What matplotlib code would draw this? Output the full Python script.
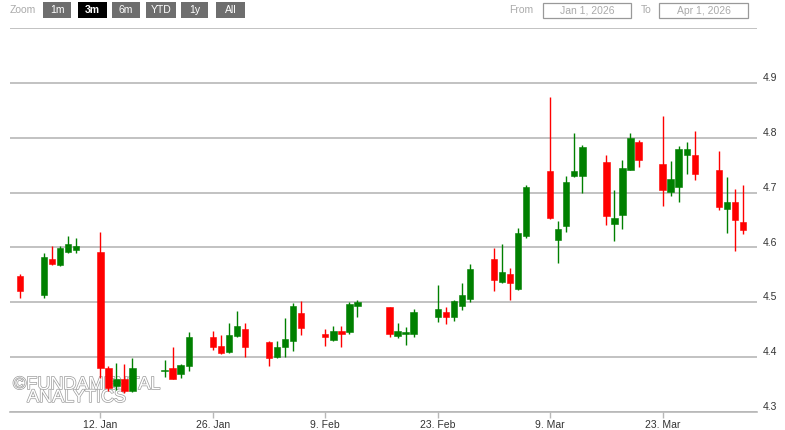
#!/usr/bin/env python3
"""Candlestick chart, Jan - Apr 2026, Highstock-like look."""

import numpy as np
import matplotlib
matplotlib.use("Agg")
import matplotlib.pyplot as plt
import matplotlib.patheffects as pe
from matplotlib.patches import Rectangle

plt.rcParams.update({
    "font.family": ["Liberation Sans", "DejaVu Sans"],
})

# trading days
dates = [
    "2026-01-02", "2026-01-05", "2026-01-06", "2026-01-07", "2026-01-08", "2026-01-09",
    "2026-01-12", "2026-01-13", "2026-01-14", "2026-01-15", "2026-01-16",
    "2026-01-20", "2026-01-21", "2026-01-22", "2026-01-23",
    "2026-01-26", "2026-01-27", "2026-01-28", "2026-01-29", "2026-01-30",
    "2026-02-02", "2026-02-03", "2026-02-04", "2026-02-05", "2026-02-06",
    "2026-02-09", "2026-02-10", "2026-02-11", "2026-02-12", "2026-02-13",
    "2026-02-17", "2026-02-18", "2026-02-19", "2026-02-20",
    "2026-02-23", "2026-02-24", "2026-02-25", "2026-02-26", "2026-02-27",
    "2026-03-02", "2026-03-03", "2026-03-04", "2026-03-05", "2026-03-06",
    "2026-03-09", "2026-03-10", "2026-03-11", "2026-03-12", "2026-03-13",
    "2026-03-16", "2026-03-17", "2026-03-18", "2026-03-19", "2026-03-20",
    "2026-03-23", "2026-03-24", "2026-03-25", "2026-03-26", "2026-03-27",
    "2026-03-30", "2026-03-31", "2026-04-01", "2026-04-02",
]
opens = [
    4.548, 4.514, 4.578, 4.568, 4.592, 4.596,
    4.592, 4.380, 4.347, 4.360, 4.339,
    4.374, 4.380, 4.370, 4.384,
    4.436, 4.420, 4.409, 4.439, 4.452,
    4.427, 4.400, 4.419, 4.430, 4.481,
    4.443, 4.431, 4.447, 4.445, 4.493,
    4.491, 4.439, 4.443, 4.442,
    4.474, 4.483, 4.474, 4.494, 4.506,
    4.579, 4.537, 4.551, 4.524, 4.620,
    4.740, 4.613, 4.639, 4.730, 4.731,
    4.755, 4.642, 4.660, 4.742, 4.793,
    4.752, 4.701, 4.710, 4.769, 4.769,
    4.742, 4.670, 4.682, 4.647,
]
highs = [
    4.552, 4.590, 4.603, 4.603, 4.620, 4.617,
    4.628, 4.384, 4.389, 4.388, 4.398,
    4.394, 4.419, 4.387, 4.445,
    4.448, 4.440, 4.463, 4.484, 4.462,
    4.430, 4.429, 4.471, 4.499, 4.503,
    4.451, 4.457, 4.456, 4.500, 4.504,
    4.492, 4.463, 4.455, 4.487,
    4.532, 4.492, 4.505, 4.535, 4.570,
    4.599, 4.606, 4.562, 4.635, 4.714,
    4.874, 4.648, 4.731, 4.808, 4.786,
    4.769, 4.705, 4.759, 4.808, 4.795,
    4.840, 4.758, 4.785, 4.792, 4.813,
    4.776, 4.728, 4.707, 4.714,
]
lows = [
    4.508, 4.508, 4.568, 4.567, 4.589, 4.589,
    4.362, 4.338, 4.340, 4.334, 4.336,
    4.364, 4.360, 4.362, 4.375,
    4.413, 4.405, 4.408, 4.437, 4.401,
    4.384, 4.399, 4.400, 4.412, 4.440,
    4.420, 4.429, 4.419, 4.443, 4.474,
    4.436, 4.434, 4.422, 4.436,
    4.464, 4.461, 4.466, 4.486, 4.500,
    4.521, 4.535, 4.504, 4.523, 4.617,
    4.651, 4.572, 4.628, 4.729, 4.700,
    4.640, 4.612, 4.634, 4.741, 4.747,
    4.675, 4.694, 4.683, 4.734, 4.723,
    4.668, 4.627, 4.593, 4.624,
]
closes = [
    4.520, 4.583, 4.569, 4.599, 4.606, 4.603,
    4.380, 4.343, 4.360, 4.339, 4.380,
    4.377, 4.361, 4.385, 4.437,
    4.419, 4.407, 4.440, 4.457, 4.419,
    4.399, 4.419, 4.433, 4.494, 4.453,
    4.437, 4.447, 4.442, 4.497, 4.500,
    4.442, 4.447, 4.445, 4.483,
    4.487, 4.474, 4.503, 4.513, 4.561,
    4.541, 4.555, 4.535, 4.627, 4.710,
    4.654, 4.633, 4.720, 4.740, 4.783,
    4.657, 4.654, 4.745, 4.799, 4.759,
    4.705, 4.725, 4.779, 4.780, 4.734,
    4.674, 4.682, 4.650, 4.632,
]

tick_dates = ["2026-01-12", "2026-01-26", "2026-02-09", "2026-02-23", "2026-03-09", "2026-03-23"]
tick_labels = ["12. Jan", "26. Jan", "9. Feb", "23. Feb", "9. Mar", "23. Mar"]
y_levels = [4.3, 4.4, 4.5, 4.6, 4.7, 4.8, 4.9, 5.0]
y_labels = ["4.3", "4.4", "4.5", "4.6", "4.7", "4.8", "4.9", ""]
zoom_buttons = ["1m", "3m", "6m", "YTD", "1y", "All"]
range_from = "Jan 1, 2026"
range_to = "Apr 1, 2026"
watermark = "\u00a9FUNDAMENTAL\n   ANALYTICS"

UP = "#008000"
DOWN = "#ff0000"
GRID = "#b8b8b8"

W, H = 785, 430
start = np.datetime64("2026-01-01")
days = (np.array(dates, dtype="datetime64[D]") - start).astype(float)
tick_days = (np.array(tick_dates, dtype="datetime64[D]") - start).astype(float)
o, h, l, c = map(np.array, (opens, highs, lows, closes))


def fx(px):
    return px / W


def fy(py):
    return 1 - py / H


fig = plt.figure(figsize=(W / 100, H / 100), dpi=100)
fig.patch.set_facecolor("white")
ax = fig.add_axes([fx(10), 18 / H, 747 / W, 384 / H])

# grid
for v in y_levels:
    ax.axhline(v, color=GRID, lw=1.2, zorder=1)

# candles
up = c >= o
colors = np.where(up, UP, DOWN)
ax.vlines(days, l, h, colors=colors, lw=1.0, zorder=3)
bottoms = np.minimum(o, c)
heights = np.maximum(np.abs(c - o), 0.002)
ax.bar(days, heights, bottom=bottoms, width=0.8, color=colors,
       edgecolor=colors, linewidth=0.4, zorder=4)

ax.set_xlim(-0.25, 92.75)
ax.set_ylim(4.3, 5.0)

for side in ["top", "left", "right"]:
    ax.spines[side].set_visible(False)
ax.spines["bottom"].set_color(GRID)
ax.spines["bottom"].set_linewidth(1.2)
ax.spines["bottom"].set_zorder(2)

ax.set_yticks([])
ax.set_xticks(tick_days)
ax.set_xticklabels(tick_labels)
ax.tick_params(axis="x", length=4.5, width=1, color=GRID, labelsize=7.5,
               labelcolor="#333333", pad=1.5)

# y labels on the right, sitting just above each line
for v, lab in zip(y_levels, y_labels):
    if lab:
        ax.annotate(lab, xy=(1.0, v), xycoords=("axes fraction", "data"),
                    xytext=(4, 3.5), textcoords="offset points",
                    ha="left", va="center", fontsize=7.5, color="#333333")

# watermark (hollow grey letters, behind the candles)
ax.text(fx(13), fy(402), watermark, transform=fig.transFigure,
        fontsize=13, color="white", va="baseline", ha="left",
        linespacing=0.68, zorder=2,
        path_effects=[pe.withStroke(linewidth=1.0, foreground="#9c9c9c")])

# range selector
fig.text(fx(10), fy(10), "Zoom", fontsize=7.5, color="#aaaaaa", va="center")
btn_x = [43, 78, 112, 146, 181, 216]
btn_w = [28, 29, 28, 30, 27, 29]
for x0, bw, lab in zip(btn_x, btn_w, zoom_buttons):
    active = lab == "3m"
    fig.patches.append(Rectangle((fx(x0), fy(18)), bw / W, 16 / H,
                                 transform=fig.transFigure,
                                 facecolor="#000000" if active else "#6e6e6e",
                                 edgecolor="none"))
    fig.text(fx(x0 + bw / 2), fy(10), lab, fontsize=7.5, color="white",
             ha="center", va="center", weight="bold" if active else "normal")

fig.text(fx(509), fy(10), "From", fontsize=7.5, color="#aaaaaa", va="center")
fig.text(fx(641), fy(10), "To", fontsize=7.5, color="#aaaaaa", va="center")
for x0, x1, lab in [(543, 631, range_from), (659, 748, range_to)]:
    fig.patches.append(Rectangle((fx(x0), fy(18)), (x1 - x0) / W, 15 / H,
                                 transform=fig.transFigure, facecolor="white",
                                 edgecolor="#999999", lw=0.9))
    fig.text(fx((x0 + x1) / 2), fy(10.5), lab, fontsize=7.5, color="#aaaaaa",
             ha="center", va="center")

fig.savefig("out.png", dpi=100)
